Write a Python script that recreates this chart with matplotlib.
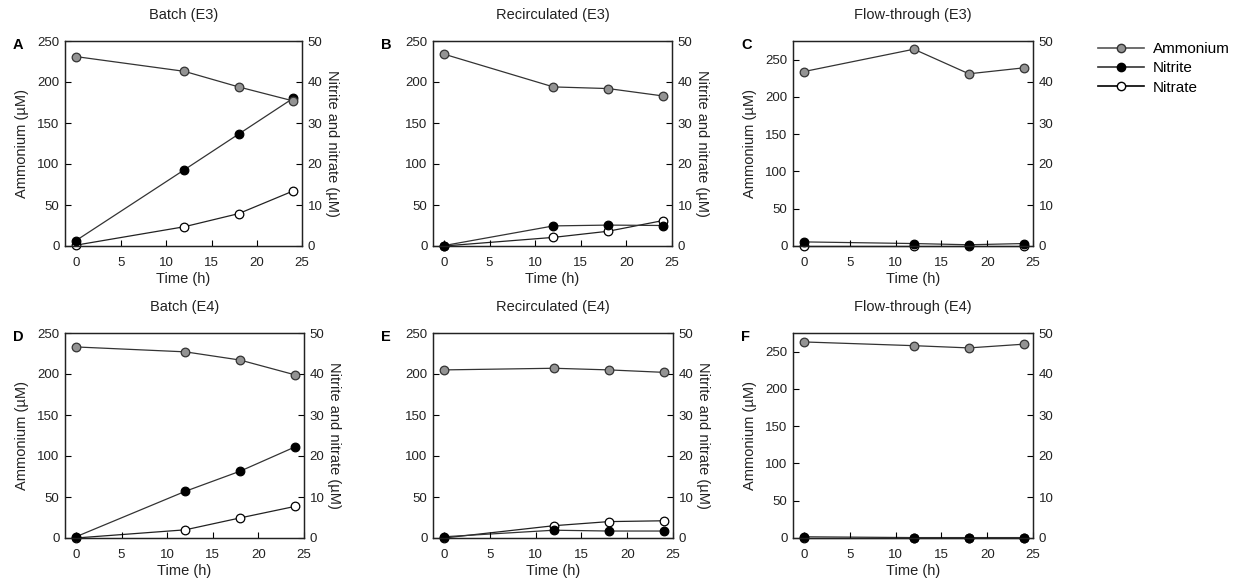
import matplotlib
matplotlib.use("Agg")
import matplotlib.pyplot as plt
from matplotlib.lines import Line2D

plt.rcParams['font.family'] = ['Liberation Sans', 'DejaVu Sans']

time_h = [0, 12, 18, 24]
titles = ["Batch (E3)", "Recirculated (E3)", "Flow-through (E3)",
          "Batch (E4)", "Recirculated (E4)", "Flow-through (E4)"]
letters = ["A", "B", "C", "D", "E", "F"]

ammonium_A = [231, 213, 194, 177]
nitrite_A = [1.3, 18.6, 27.3, 36.0]
nitrate_A = [0.2, 4.7, 7.9, 13.4]

ammonium_B = [234, 194, 192, 183]
nitrite_B = [0.1, 4.9, 5.1, 5.0]
nitrate_B = [0.0, 2.1, 3.6, 6.2]

ammonium_C = [234, 264, 231, 239]
nitrite_C = [1.0, 0.6, 0.3, 0.6]
nitrate_C = [0.1, 0.1, 0.1, 0.1]

ammonium_D = [233, 227, 217, 199]
nitrite_D = [0.3, 11.4, 16.3, 22.2]
nitrate_D = [0.0, 2.0, 4.9, 7.7]

ammonium_E = [205, 207, 205, 202]
nitrite_E = [0.3, 1.9, 1.7, 1.7]
nitrate_E = [0.0, 3.0, 4.0, 4.2]

ammonium_F = [263, 258, 255, 260]
nitrite_F = [0.3, 0.1, 0.1, 0.1]
nitrate_F = [0.0, 0.0, 0.0, 0.0]

ammonium = [ammonium_A, ammonium_B, ammonium_C, ammonium_D, ammonium_E, ammonium_F]
nitrite = [nitrite_A, nitrite_B, nitrite_C, nitrite_D, nitrite_E, nitrite_F]
nitrate = [nitrate_A, nitrate_B, nitrate_C, nitrate_D, nitrate_E, nitrate_F]
left_max = [250, 250, 275, 250, 250, 275]

W, H = 1247, 586
fig = plt.figure(figsize=(W / 100, H / 100), dpi=100)

# pixel boxes: left, top, right, bottom
boxes = [(65, 41, 302, 246), (433, 41, 672, 246), (793, 41, 1033, 246),
         (65, 333, 304, 538), (433, 333, 673, 538), (793, 333, 1033, 538)]

AMM_C = '#939393'
TXT = '#222222'
ms = 6.2

for i, (l, t, r, b) in enumerate(boxes):
    ax = fig.add_axes([l / W, 1 - b / H, (r - l) / W, (b - t) / H])
    ax2 = ax.twinx()
    ax.set_zorder(ax2.get_zorder() + 1)
    ax.patch.set_visible(False)

    ax2.plot(time_h, nitrate[i], '-o', color='#222222', lw=0.9, ms=ms,
             mfc='white', mec='black', mew=0.9, clip_on=False)
    ax2.plot(time_h, nitrite[i], '-o', color='#333333', lw=0.9, ms=ms,
             mfc='black', mec='black', mew=0.9, clip_on=False)
    ax.plot(time_h, ammonium[i], '-o', color='#333333', lw=0.9, ms=ms,
            mfc=AMM_C, mec='#333333', mew=0.9, clip_on=False)

    ax.set_xlim(-1.2, 25)
    ax.set_ylim(0, left_max[i])
    ax2.set_ylim(0, 50)
    ax.set_xticks([0, 5, 10, 15, 20, 25])
    ax.set_yticks([0, 50, 100, 150, 200, 250])
    ax2.set_yticks([0, 10, 20, 30, 40, 50])
    for a in (ax, ax2):
        a.tick_params(direction='in', length=4, width=0.8, labelsize=9.5,
                      colors='black', labelcolor=TXT, pad=4)
        for s in a.spines.values():
            s.set_linewidth(0.9)
            s.set_color('#222222')
    ax.tick_params(axis='x', pad=8)
    ax.set_xlabel("Time (h)", fontsize=10.5, color=TXT, labelpad=2)
    ax.set_title(titles[i], fontsize=10.5, color=TXT, pad=16)
    if i % 3 != 1:
        ax.set_ylabel("Ammonium (\u00b5M)", fontsize=10.5, color=TXT, labelpad=6)
    if i % 3 != 2:
        ax2.set_ylabel("Nitrite and nitrate (\u00b5M)", fontsize=10.5, color=TXT,
                       rotation=270, labelpad=12)
    fig.text((l - 52) / W, 1 - (t + 4) / H, letters[i], fontsize=10.5,
             fontweight='bold', ha='left', va='center', color='black')

handles = [
    Line2D([], [], color='#555555', lw=1.2, marker='o', ms=6, mfc=AMM_C, mec='#333333'),
    Line2D([], [], color='#333333', lw=1.2, marker='o', ms=6, mfc='black', mec='black'),
    Line2D([], [], color='black', lw=1.2, marker='o', ms=6, mfc='white', mec='black'),
]
fig.legend(handles, ["Ammonium", "Nitrite", "Nitrate"], loc='upper left',
           bbox_to_anchor=(1098 / W, 1 - 42 / H), frameon=False, fontsize=11,
           handlelength=3.0, handletextpad=0.6, labelspacing=0.35,
           borderaxespad=0, borderpad=0)

fig.savefig("out.png", dpi=100)
